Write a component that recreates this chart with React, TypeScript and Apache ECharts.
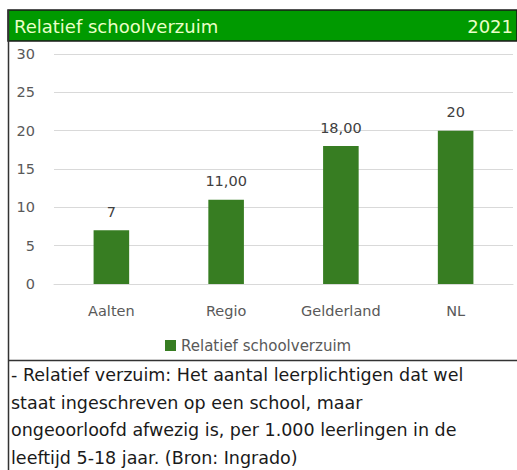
import React, { useEffect, useRef } from "react";
import * as echarts from "echarts";

const categories = ["Aalten", "Regio", "Gelderland", "NL"];
const values = [7, 11, 18, 20];
const valueLabels = ["7", "11,00", "18,00", "20"];
const yTicks = [0, 5, 10, 15, 20, 25, 30];
const seriesName = "Relatief schoolverzuim";
const title = "Relatief schoolverzuim";
const year = "2021";
const noteLines = [
  "- Relatief verzuim: Het aantal leerplichtigen dat wel",
  "staat ingeschreven op een school, maar",
  "ongeoorloofd afwezig is, per 1.000 leerlingen in de",
  "leeftijd 5-18 jaar. (Bron: Ingrado)",
];

export default function App() {
  const ref = useRef<HTMLDivElement>(null);
  useEffect(() => {
    if (!ref.current) return;
    const chart = echarts.init(ref.current, undefined, { renderer: "svg" });
    const axisFont = "'DejaVu Sans', sans-serif";
    chart.setOption({
      animation: false,
      backgroundColor: "#ffffff",
      grid: { left: 54, right: 4, top: 54, bottom: 186, containLabel: false },
      legend: {
        data: [seriesName],
        left: 160,
        top: 333,
        itemWidth: 11,
        itemHeight: 11,
        itemGap: 4,
        icon: "rect",
        textStyle: { fontFamily: axisFont, fontSize: 15, color: "#595959" },
      },
      xAxis: {
        type: "category",
        data: categories,
        axisLine: { show: true, lineStyle: { color: "#d9d9d9", width: 1 } },
        axisTick: { show: false },
        axisLabel: { margin: 19, fontFamily: axisFont, fontSize: 14.5, color: "#595959" },
      },
      yAxis: {
        type: "value",
        min: yTicks[0],
        max: yTicks[yTicks.length - 1],
        interval: 5,
        axisLine: { show: false },
        axisTick: { show: false },
        splitLine: { lineStyle: { color: "#d9d9d9", width: 1 } },
        axisLabel: { margin: 19, fontFamily: axisFont, fontSize: 14.5, color: "#595959" },
      },
      series: [
        {
          name: seriesName,
          type: "bar",
          data: values,
          barWidth: "31%",
          itemStyle: { color: "#377d22" },
          label: {
            show: true,
            position: "top",
            distance: 11,
            fontFamily: axisFont,
            fontSize: 14.5,
            color: "#404040",
            formatter: (p: any) => valueLabels[p.dataIndex],
          },
        },
      ],
      graphic: [
        {
          type: "rect",
          shape: { x: 8, y: 10, width: 509, height: 31 },
          style: { fill: "#009a00", stroke: "#1a1a1a", lineWidth: 1.5 },
          z: 10,
        },
        {
          type: "text",
          x: 14,
          y: 26,
          style: {
            text: title,
            fontFamily: "'DejaVu Sans', sans-serif",
            fontSize: 18,
            fill: "#eaffc8",
            verticalAlign: "middle",
          },
          z: 11,
        },
        {
          type: "text",
          x: 513,
          y: 26,
          style: {
            text: year,
            fontFamily: "'DejaVu Sans', sans-serif",
            fontSize: 18,
            fill: "#eaffc8",
            align: "right",
            verticalAlign: "middle",
          },
          z: 11,
        },
        {
          type: "line",
          shape: { x1: 8.5, y1: 10, x2: 8.5, y2: 470 },
          style: { stroke: "#333333", lineWidth: 1.5 },
          z: 10,
        },
        {
          type: "line",
          shape: { x1: 8, y1: 360.5, x2: 517, y2: 360.5 },
          style: { stroke: "#333333", lineWidth: 1.5 },
          z: 10,
        },
        ...noteLines.map((t, i) => ({
          type: "text",
          x: 11,
          y: 375 + i * 27.6,
          style: {
            text: t,
            fontFamily: "'DejaVu Sans', sans-serif",
            fontSize: 17.5,
            fill: "#1a1a1a",
            verticalAlign: "middle",
          },
          z: 11,
        })),
      ],
    });
    return () => chart.dispose();
  }, []);
  return (
    <div
      ref={ref}
      style={{ position: "absolute", left: 0, top: 0, width: 517, height: 470 }}
    />
  );
}
